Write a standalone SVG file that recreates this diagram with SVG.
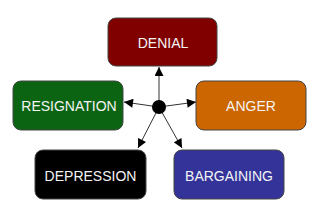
<svg xmlns="http://www.w3.org/2000/svg" width="320" height="220" viewBox="0 0 320 220">
<style>
.box{stroke:#444;stroke-width:1}
.lbl{font-family:"Liberation Sans",Arial,sans-serif;font-size:14px;fill:#f4f4f4;text-anchor:middle;dominant-baseline:central}
.con{stroke:#333;stroke-width:1;fill:none;marker-end:url(#ah)}
</style>
<defs>
<marker id="ah" viewBox="0 0 10 10" refX="10" refY="5" markerWidth="10" markerHeight="9" markerUnits="userSpaceOnUse" orient="auto">
<path d="M0,0 L10,5 L0,10 z" fill="#000"/>
</marker>
</defs>
<rect width="320" height="220" fill="#fff"/>
<g id="connectors">
<line class="con" x1="159" y1="107" x2="159" y2="67"/>
<line class="con" x1="159" y1="107" x2="124" y2="102"/>
<line class="con" x1="159" y1="107" x2="196" y2="102"/>
<line class="con" x1="159" y1="107" x2="138" y2="148"/>
<line class="con" x1="159" y1="107" x2="182" y2="148"/>
</g>
<g id="hub"><circle cx="159" cy="107" r="7" fill="#000"/></g>
<g id="denial"><rect class="box" x="108" y="18" width="109" height="48" rx="8" fill="#800000"/><text class="lbl" x="163" y="43">DENIAL</text></g>
<g id="resignation"><rect class="box" x="13" y="81" width="110" height="49" rx="8" fill="#0b6412"/><text class="lbl" x="69" y="106">RESIGNATION</text></g>
<g id="anger"><rect class="box" x="196" y="81" width="110" height="49" rx="8" fill="#cc6600"/><text class="lbl" x="251" y="106">ANGER</text></g>
<g id="depression"><rect class="box" x="35" y="150" width="111" height="49" rx="8" fill="#000"/><text class="lbl" x="90.5" y="176">DEPRESSION</text></g>
<g id="bargaining"><rect class="box" x="174" y="150" width="110" height="49" rx="8" fill="#333399"/><text class="lbl" x="229" y="176">BARGAINING</text></g>
</svg>
